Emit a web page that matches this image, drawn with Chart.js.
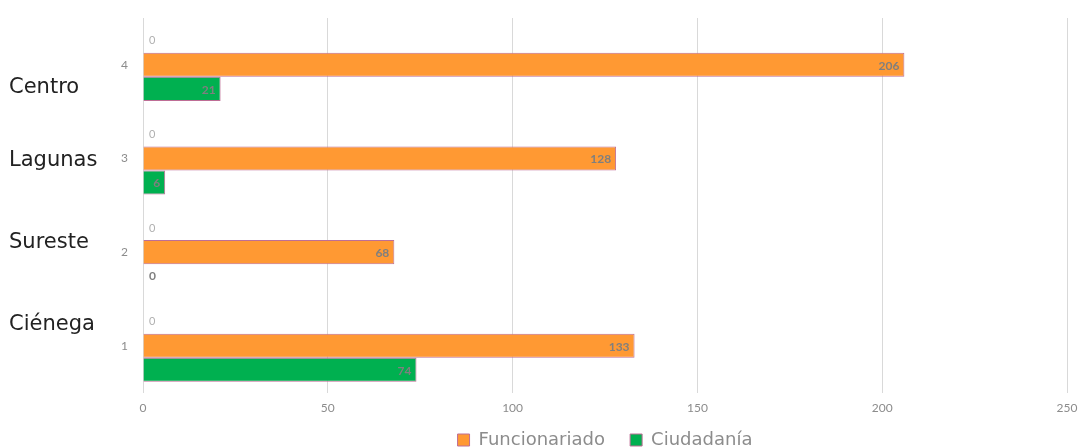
<!DOCTYPE html>
<html>
<head>
<meta charset="utf-8">
<script src="https://cdn.jsdelivr.net/npm/chart.js@4"></script>
<style>
  html, body { margin: 0; padding: 0; background: #ffffff; }
  #wrap { width: 1078px; height: 447px; }
</style>
</head>
<body>
<div id="wrap"><canvas id="grafica"></canvas></div>
<script>
// --- datos ---
const categorias = ['4', '3', '2', '1'];
const regiones = ['Centro', 'Lagunas', 'Sureste', 'Ciénega'];
const serieVacia = [0, 0, 0, 0];
const funcionariado = [206, 128, 68, 133];
const ciudadania = [21, 6, 0, 74];
const ticksX = [0, 50, 100, 150, 200, 250];

// etiquetas de valor dibujadas a mano (no hay plugin datalabels)
const etiquetasValor = {
    id: 'etiquetasValor',
    afterDatasetsDraw(chart) {
        const c = chart.ctx;
        c.save();
        c.textBaseline = 'middle';
        chart.data.datasets.forEach((ds, i) => {
            const meta = chart.getDatasetMeta(i);
            meta.data.forEach((bar, j) => {
                const v = ds.data[j];
                if (i === 0) {
                    c.font = '11px Lato';
                    c.fillStyle = '#b0b0b0';
                    c.textAlign = 'left';
                    c.fillText(v, bar.base + 6, bar.y);
                } else if (v === 0) {
                    c.font = 'bold 12px Lato';
                    c.fillStyle = '#808080';
                    c.textAlign = 'left';
                    c.fillText(v, bar.base + 6, bar.y);
                } else {
                    c.font = 'bold 12px Lato';
                    c.fillStyle = '#7f7f7f';
                    c.textAlign = 'right';
                    c.fillText(v, bar.x - 5, bar.y + 1);
                }
            });
        });
        c.restore();
    }
};

// nombres de región a la izquierda
const nombresRegion = {
    id: 'nombresRegion',
    afterDraw(chart) {
        const c = chart.ctx;
        const ys = [88, 161, 243, 325];
        c.save();
        c.font = '21px "DejaVu Sans"';
        c.fillStyle = '#222222';
        c.textAlign = 'left';
        c.textBaseline = 'middle';
        regiones.forEach((r, i) => c.fillText(r, 9, ys[i]));
        c.restore();
    }
};

const borde = 'rgb(190, 110, 150)';

new Chart(document.getElementById('grafica'), {
    type: 'bar',
    data: {
        labels: categorias,
        datasets: [
            { label: 'Serie3', data: serieVacia, backgroundColor: '#a5a5a5', borderWidth: 0 },
            { label: 'Funcionariado', data: funcionariado, backgroundColor: 'rgb(255, 153, 51)', borderColor: borde, borderWidth: 1 },
            { label: 'Ciudadanía', data: ciudadania, backgroundColor: 'rgb(0, 176, 80)', borderColor: borde, borderWidth: 1 }
        ]
    },
    options: {
        indexAxis: 'y',
        responsive: true,
        maintainAspectRatio: false,
        animation: false,
        layout: { padding: { top: 18, right: 11, left: 0, bottom: -12 } },
        datasets: { bar: { categoryPercentage: 0.77, barPercentage: 1.0 } },
        scales: {
            x: {
                min: 0, max: 250,
                afterBuildTicks: (s) => { s.ticks = ticksX.map(v => ({ value: v })); },
                afterFit: (s) => { s.paddingRight = 0; },
                grid: { color: '#d9d9d9', drawTicks: false },
                border: { display: false },
                ticks: { color: '#8c8c8c', font: { family: 'Lato', size: 12 }, padding: 8 }
            },
            y: {
                afterFit: (s) => { s.width = 143; },
                grid: { display: false },
                border: { display: true, color: '#d9d9d9' },
                ticks: { color: '#8c8c8c', font: { family: 'Lato', size: 12 }, padding: 7 }
            }
        },
        plugins: {
            legend: {
                position: 'bottom',
                fullSize: false,
                labels: {
                    generateLabels: (chart) => {
                        const items = Chart.defaults.plugins.legend.labels.generateLabels(chart)
                            .filter(it => it.datasetIndex !== 0);
                        items[0].text = items[0].text + '   ';
                        return items;
                    },
                    color: '#8c8c8c',
                    font: { family: 'DejaVu Sans', size: 18 },
                    boxWidth: 12, boxHeight: 12, padding: 8
                }
            },
            tooltip: { enabled: false }
        }
    },
    plugins: [etiquetasValor, nombresRegion]
});
</script>
</body>
</html>
